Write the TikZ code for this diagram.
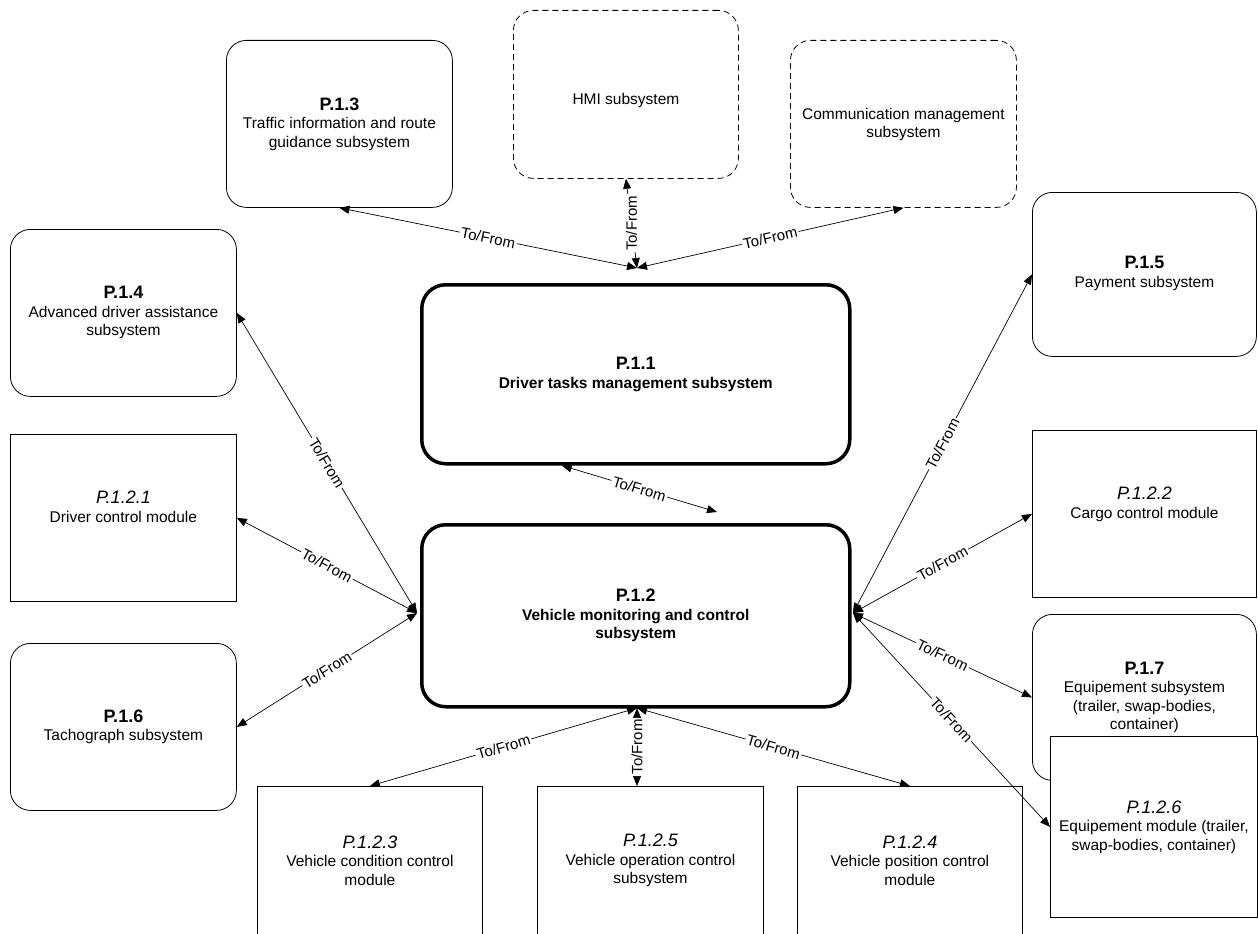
\documentclass[tikz,border=0pt]{standalone}
\usepackage{fontspec}
\setmainfont{Liberation Sans}
\usetikzlibrary{positioning,arrows.meta,calc}

\newcommand{\pnum}[1]{{\fontsize{18}{21}\selectfont\bfseries #1}}
\newcommand{\mnum}[1]{{\fontsize{18}{21}\selectfont\itshape #1}}

\begin{document}
\begin{tikzpicture}[
    x=1pt, y=-1pt,
    box/.style={
        draw,
        line width=0.8pt,
        fill=white,
        align=center,
        anchor=north west,
        inner sep=0pt,
        minimum width=226pt,
        minimum height=167pt,
        font=\fontsize{15.5}{18.5}\selectfont
    },
    subsys/.style={box, rounded corners=20pt},
    ghost/.style={subsys, dash pattern=on 6pt off 4pt},
    module/.style={box},
    core/.style={box, rounded corners=24pt, line width=3.5pt,
        minimum width=428pt, minimum height=180pt,
        font=\fontsize{15.5}{18.5}\selectfont\bfseries},
    link/.style={{Triangle[length=10pt,width=8pt]}-{Triangle[length=10pt,width=8pt]},
        line width=0.7pt},
    tofrom/.style={fill=white, inner sep=1.5pt, font=\fontsize{15}{18}\selectfont},
    >=Stealth
]
\useasboundingbox (0,0) rectangle (1258,934);

% top row
\node[subsys] (p13) at (226,40) {\pnum{P.1.3}\\Traffic information and route\\guidance subsystem};
\node[ghost, minimum height=168pt, minimum width=225pt] (hmi) at (513,10) {\\[4pt]HMI subsystem};
\node[ghost] (comm) at (790,40) {\\[-6pt]Communication management\\subsystem};

% left column
\node[subsys] (p14) at (10,229) {\pnum{P.1.4}\\Advanced driver assistance\\subsystem};
\node[module] (p121) at (10,434) {\mnum{P.1.2.1}\\Driver control module\\[4pt]\mbox{}};
\node[subsys] (p16) at (10,643) {\pnum{P.1.6}\\Tachograph subsystem};

% centre
\node[core, minimum height=179pt] (p11) at (420,283) {\pnum{P.1.1}\\Driver tasks management subsystem};
\node[core, minimum height=182pt] (p12) at (420,523) {\pnum{P.1.2}\\Vehicle monitoring and control\\subsystem};

% right column
\node[subsys, minimum width=224pt, minimum height=164pt] (p15) at (1032,192) {\\[-8pt]\pnum{P.1.5}\\Payment subsystem};
\node[module, minimum width=224pt] (p122) at (1032,430) {\mnum{P.1.2.2}\\Cargo control module\\[4pt]\mbox{}};
\node[subsys, minimum width=224pt, minimum height=166pt] (p17) at (1032,614) {\pnum{P.1.7}\\Equipement subsystem\\(trailer, swap-bodies,\\container)};
\node[module, minimum width=207pt, minimum height=181pt] (p126) at (1050,736) {\mnum{P.1.2.6}\\Equipement module (trailer,\\swap-bodies, container)};

% bottom row
\node[module, minimum width=225pt, minimum height=148pt] (p123) at (257,786) {\mnum{P.1.2.3}\\Vehicle condition control\\module};
\node[module, minimum width=226pt, minimum height=148pt] (p125) at (537,786) {\mnum{P.1.2.5}\\Vehicle operation control\\subsystem};
\node[module, minimum width=225pt, minimum height=148pt] (p124) at (797,786) {\mnum{P.1.2.4}\\Vehicle position control\\module};

% hubs
\coordinate (topHub) at (637,268);
\coordinate (botHub) at (637,708);
\coordinate (leftHub) at (417,613);
\coordinate (rightHub) at (853,613);
\coordinate (midEnd) at (717,512);

% connectors
\draw[link] (topHub) -- node[tofrom, sloped] {To/From} (p13.south);
\draw[link] (topHub) -- node[tofrom, rotate=90] {To/From} (hmi.south);
\draw[link] (topHub) -- node[tofrom, sloped] {To/From} (comm.south);
\draw[link] ([xshift=-74pt]p11.south) -- node[tofrom, sloped] {To/From} (midEnd);

\draw[link] (leftHub) -- node[tofrom, sloped] {To/From} (p14.east);
\draw[link] (leftHub) -- node[tofrom, sloped] {To/From} (p121.east);
\draw[link] (leftHub) -- node[tofrom, sloped] {To/From} (p16.east);

\draw[link] (rightHub) -- node[tofrom, sloped] {To/From} (p15.west);
\draw[link] (rightHub) -- node[tofrom, sloped] {To/From} (p122.west);
\draw[link] (rightHub) -- node[tofrom, sloped] {To/From} (p17.west);
\draw[link] (rightHub) -- node[tofrom, sloped] {To/From} (p126.west);

\draw[link] (botHub) -- node[tofrom, sloped] {To/From} (p123.north);
\draw[link] (botHub) -- node[tofrom, rotate=90] {To/From} (botHub |- p125.north);
\draw[link] (botHub) -- node[tofrom, sloped] {To/From} (p124.north);
\end{tikzpicture}
\end{document}
